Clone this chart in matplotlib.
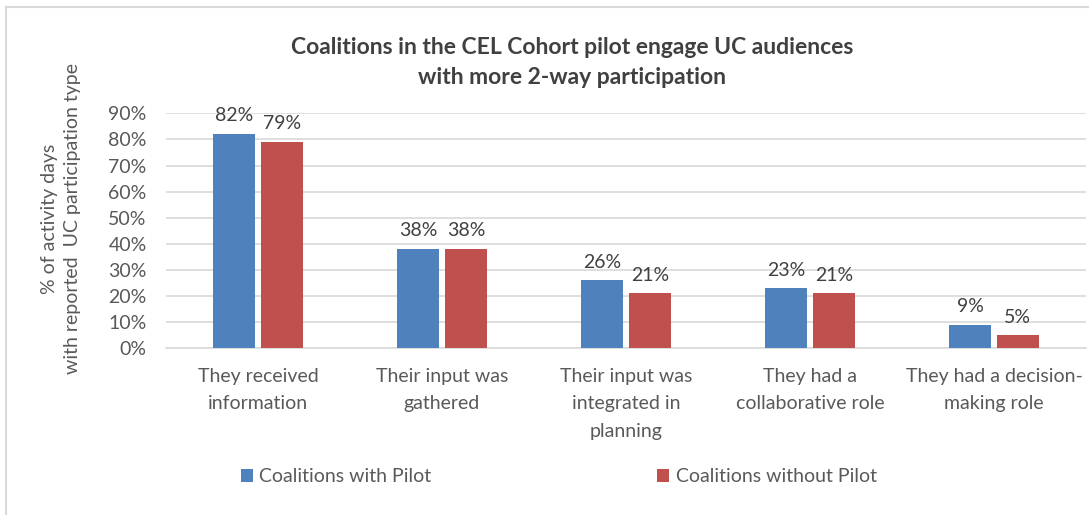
import matplotlib
matplotlib.use("Agg")
import matplotlib.pyplot as plt
from matplotlib.lines import Line2D
from matplotlib.patches import Patch
import numpy as np

plt.rcParams['font.family'] = ['Lato', 'DejaVu Sans']

categories = [
    "They received\ninformation",
    "Their input was\ngathered",
    "Their input was\nintegrated in\nplanning",
    "They had a\ncollaborative role",
    "They had a decision-\nmaking role",
]
with_pilot = [82, 38, 26, 23, 9]
without_pilot = [79, 38, 21, 21, 5]
series_names = ["Coalitions with Pilot", "Coalitions without Pilot"]
yticks = [0, 10, 20, 30, 40, 50, 60, 70, 80, 90]

BLUE = "#4F81BD"
RED = "#C0504D"
GRID = "#D9D9D9"
TXT = "#595959"
LBL = "#404040"
FS = 14

W, H = 1089, 515
fig = plt.figure(figsize=(W / 100, H / 100), dpi=100)
ax = fig.add_axes([166 / W, 1 - 348.3 / H, 920 / W, (348.3 - 113.3) / H])

x = np.arange(len(categories))
bw = 0.228
off = 0.13
b1 = ax.bar(x - off, with_pilot, bw, color=BLUE, zorder=3)
b2 = ax.bar(x + off, without_pilot, bw, color=RED, zorder=3)

for bars, vals in ((b1, with_pilot), (b2, without_pilot)):
    for rect, v in zip(bars, vals):
        ax.annotate(f"{v}%", (rect.get_x() + rect.get_width() / 2, v),
                    xytext=(0, 7), textcoords="offset points",
                    ha="center", va="bottom", fontsize=FS, color=LBL)

ax.set_xlim(-0.5, len(categories) - 0.5)
ax.set_ylim(0, 90)
ax.set_yticks(yticks)
ax.set_yticklabels([f"{t}%" for t in yticks])
ax.yaxis.grid(True, color=GRID, linewidth=1.2, zorder=0)
ax.set_axisbelow(True)
for s in ("top", "right", "left"):
    ax.spines[s].set_visible(False)
ax.spines["bottom"].set_color(GRID)
ax.spines["bottom"].set_linewidth(1.2)
ax.tick_params(axis="both", length=0, colors=TXT, labelsize=FS)
ax.tick_params(axis="y", pad=14)
ax.set_xticks(x)
ax.set_xticklabels(categories, linespacing=1.75)
ax.tick_params(axis="x", pad=14)

fig.text(50 / W, 1 - 219 / H, "% of activity days", rotation=90,
         ha="center", va="center", fontsize=FS, color=TXT)
fig.text(73 / W, 1 - 219 / H, "with reported  UC participation type", rotation=90,
         ha="center", va="center", fontsize=FS, color=TXT)

fig.text(572 / W, 1 - 47 / H, "Coalitions in the CEL Cohort pilot engage UC audiences",
         ha="center", va="center", fontsize=16.5, fontweight="bold", color=LBL)
fig.text(572 / W, 1 - 77 / H, "with more 2-way participation",
         ha="center", va="center", fontsize=16.5, fontweight="bold", color=LBL)

handles = [Patch(facecolor=BLUE), Patch(facecolor=RED)]
fig.legend(handles, series_names, loc="center left",
           bbox_to_anchor=(241 / W, 1 - 477 / H), ncol=2, frameon=False,
           fontsize=FS, labelcolor=TXT, handlelength=0.6, handleheight=0.6,
           handletextpad=0.35, columnspacing=11.6, borderpad=0, borderaxespad=0)

# light frame along the top and left edges
fig.add_artist(Line2D([6 / W, 1], [1 - 7 / H, 1 - 7 / H], color=GRID, lw=1.5))
fig.add_artist(Line2D([6 / W, 6 / W], [0, 1 - 7 / H], color=GRID, lw=1.5))

fig.savefig("out.png", dpi=100, facecolor="white")
